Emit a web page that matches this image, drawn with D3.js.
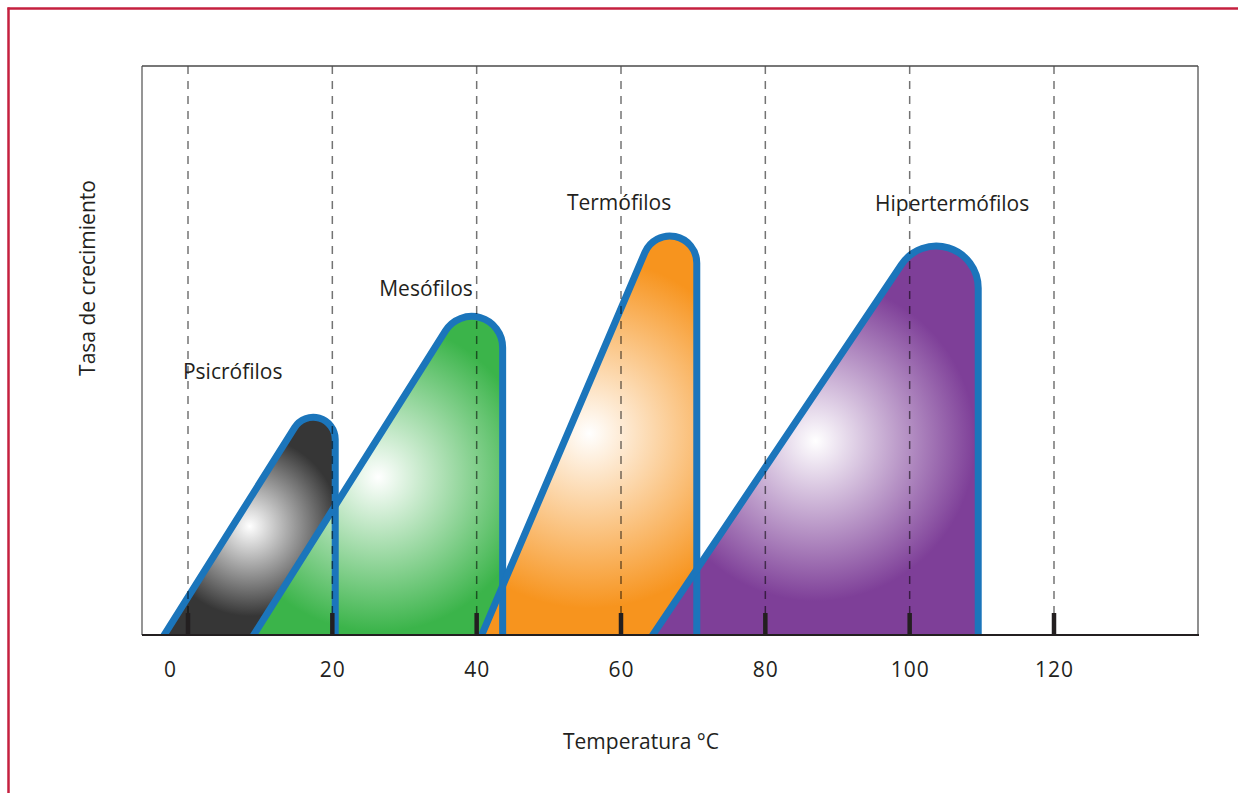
<!DOCTYPE html>
<html>
<head>
<meta charset="utf-8">
<script src="https://cdn.jsdelivr.net/npm/d3@7"></script>
<style>
  html, body { margin: 0; padding: 0; background: #fff; }
  svg { display: block; }
  text { font-family: "Open Sans", "Noto Sans", sans-serif; fill: #231f20; }
</style>
</head>
<body>
<svg id="chart" width="1238" height="793"></svg>
<script>
// ---------------- data ----------------
const groups    = ["Psicrófilos", "Mesófilos", "Termófilos", "Hipertermófilos"];
const tMin      = [-3.3, 9.1, 40.7, 64.4];     // °C where growth starts
const tMax      = [20.4, 43.6, 70.5, 109.5];   // °C where growth stops
const peakRate  = [47.8, 69.4, 88.6, 85.2];    // growth-rate apex (arbitrary units)
const xTicks    = [0, 20, 40, 60, 80, 100, 120];
const labelTemp = [-0.7, 26.5, 52.5, 95.2];    // label anchor (°C)
const labelRate = [45.0, 59.6, 74.7, 74.6];    // label baseline (rate units)

// ---------------- styles ----------------
const edgeColors   = ["#363636", "#3bb44a", "#f7941e", "#7e3f98"];
const centerColors = ["#ffffff", "#ffffff", "#ffffff", "#ffffff"];
const gradRadius   = [90, 155, 175, 160];
const cornerRadius = [22, 31, 27, 42];
const outline = "#1b75bb";

const W = 1238, H = 793;
const plot = { left: 142, right: 1198, top: 66, bottom: 635 };

const svg = d3.select("#chart");

const x = d3.scaleLinear().domain([0, 120]).range([188, 1054]);
const y = d3.scaleLinear().domain([0, 100]).range([plot.bottom, plot.top]);

// outer crimson frame
svg.append("line").attr("x1", 8.5).attr("x2", 8.5).attr("y1", 7.5).attr("y2", H)
  .attr("stroke", "#c5203f").attr("stroke-width", 2.5);
svg.append("line").attr("x1", 7.5).attr("x2", W).attr("y1", 8.5).attr("y2", 8.5)
  .attr("stroke", "#c5203f").attr("stroke-width", 2.5);

const defs = svg.append("defs");
defs.append("clipPath").attr("id", "plotClip").append("rect")
  .attr("x", plot.left).attr("y", plot.top)
  .attr("width", plot.right - plot.left).attr("height", plot.bottom - plot.top);

// geometry
const shapes = groups.map((g, i) => {
  const xL = x(tMin[i]), xR = x(tMax[i]), yB = y(0), yA = y(peakRate[i]);
  const dx = xL - xR, dy = yB - yA, len = Math.hypot(dx, dy);
  const ux = dx / len, uy = dy / len;
  const theta = Math.acos(uy);
  const r = cornerRadius[i];
  const t = r / Math.tan(theta / 2);
  const p1 = [xR + ux * t, yA + uy * t];
  const p2 = [xR, yA + t];
  const arc = `L${p1[0]},${p1[1]} A${r},${r} 0 0 1 ${p2[0]},${p2[1]}`;
  const fillPath = `M${xL},${yB} ${arc} L${xR},${yB} Z`;
  const ext = 12;
  const strokePath = `M${xL + ux * ext},${yB + uy * ext} ${arc} L${xR},${yB + ext}`;
  return { i, xL, xR, yB, yA, fillPath, strokePath };
});

// gradients
shapes.forEach(s => {
  const gr = defs.append("radialGradient").attr("id", "grad" + s.i)
    .attr("gradientUnits", "userSpaceOnUse")
    .attr("cx", s.xL + 0.5 * (s.xR - s.xL))
    .attr("cy", s.yA + 0.6 * (s.yB - s.yA))
    .attr("r", gradRadius[s.i]);
  gr.append("stop").attr("offset", 0).attr("stop-color", centerColors[s.i]);
  gr.append("stop").attr("offset", 1).attr("stop-color", edgeColors[s.i]);
});

// plot background
svg.append("rect").attr("x", plot.left).attr("y", plot.top)
  .attr("width", plot.right - plot.left).attr("height", plot.bottom - plot.top)
  .attr("fill", "#fff");

const g = svg.append("g").attr("clip-path", "url(#plotClip)");
g.selectAll("path.fill").data(shapes).join("path").attr("class", "fill")
  .attr("d", d => d.fillPath).attr("fill", d => `url(#grad${d.i})`);
g.selectAll("path.edge").data(shapes).join("path").attr("class", "edge")
  .attr("d", d => d.strokePath).attr("fill", "none")
  .attr("stroke", outline).attr("stroke-width", 7).attr("stroke-linejoin", "round");

// dashed verticals
svg.selectAll("line.grid").data(xTicks).join("line").attr("class", "grid")
  .attr("x1", d => x(d)).attr("x2", d => x(d))
  .attr("y1", plot.top).attr("y2", plot.bottom - 20)
  .attr("stroke", "#000").attr("stroke-opacity", 0.55).attr("stroke-width", 1.5)
  .attr("stroke-dasharray", "8,7");

// frame
svg.append("line").attr("x1", plot.left).attr("x2", plot.left).attr("y1", plot.top).attr("y2", plot.bottom)
  .attr("stroke", "#8a8a8a").attr("stroke-width", 1.8);
svg.append("line").attr("x1", plot.right).attr("x2", plot.right).attr("y1", plot.top).attr("y2", plot.bottom)
  .attr("stroke", "#6a6a6a").attr("stroke-width", 1.5);
svg.append("line").attr("x1", plot.left).attr("x2", plot.right).attr("y1", plot.top).attr("y2", plot.top)
  .attr("stroke", "#4a4a4a").attr("stroke-width", 1.5);

// tick marks
svg.selectAll("line.tick-mark").data(xTicks).join("line").attr("class", "tick-mark")
  .attr("x1", d => x(d)).attr("x2", d => x(d))
  .attr("y1", plot.bottom - 22).attr("y2", plot.bottom)
  .attr("stroke", "#231f20").attr("stroke-width", 4.5);

// bottom axis
const axis = svg.append("g").attr("transform", `translate(0,${plot.bottom})`)
  .call(d3.axisBottom(x).tickValues(xTicks).tickSize(0).tickPadding(27).tickFormat(d3.format("d")));
axis.select(".domain").remove();
axis.selectAll("text").style("font-size", "21px").style("letter-spacing", "1px")
  .attr("fill", "#231f20")
  .attr("dx", d => d === 0 ? -18 : 0);
svg.append("line").attr("x1", plot.left).attr("x2", plot.right + 1)
  .attr("y1", plot.bottom).attr("y2", plot.bottom)
  .attr("stroke", "#231f20").attr("stroke-width", 2);

// group labels
svg.selectAll("text.glabel").data(groups).join("text").attr("class", "glabel")
  .attr("x", (d, i) => x(labelTemp[i])).attr("y", (d, i) => y(labelRate[i]))
  .style("font-size", "21px").text(d => d);

// axis titles
svg.append("text").attr("x", 641).attr("y", 749).attr("text-anchor", "middle")
  .style("font-size", "21px").text("Temperatura °C");
svg.append("text").attr("transform", "translate(95,278) rotate(-90)").attr("text-anchor", "middle")
  .style("font-size", "21px").text("Tasa de crecimiento");
</script>
</body>
</html>
